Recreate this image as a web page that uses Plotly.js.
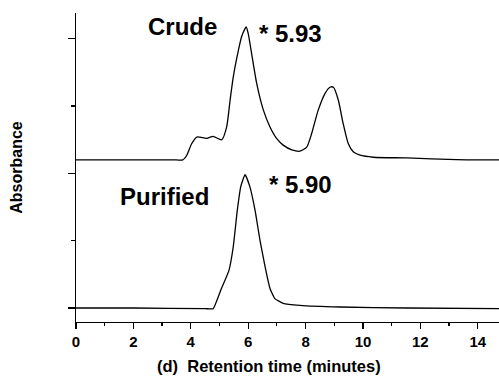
<!DOCTYPE html>
<html>
<head>
<meta charset="utf-8">
<script src="https://cdn.plot.ly/plotly-3.0.1.min.js"></script>
<style>html,body{margin:0;padding:0;background:#fff;}#chart{width:499px;height:376px;}</style>
</head>
<body>
<div id="chart"></div>
<script>
// Retention time (minutes) and absorbance (arbitrary units)
const crudeTime = [0, 3.5, 3.72, 3.86, 4.03, 4.21, 4.55, 4.78, 5.08, 5.25, 5.37, 5.48, 5.66, 5.77, 5.89, 5.93, 6.0, 6.12, 6.3, 6.53, 6.76, 6.99, 7.22, 7.52, 7.8, 8.04, 8.21, 8.44, 8.68, 8.85, 8.97, 9.14, 9.31, 9.49, 9.66, 9.9, 10.36, 11.52, 13.26, 14.74];
const crudeAbs  = [0, 0, 0, 0.07, 0.24, 0.34, 0.32, 0.35, 0.30, 0.49, 0.89, 1.23, 1.63, 1.83, 1.95, 1.975, 1.88, 1.58, 1.13, 0.74, 0.49, 0.32, 0.22, 0.15, 0.13, 0.19, 0.39, 0.74, 0.99, 1.08, 1.08, 0.89, 0.54, 0.24, 0.12, 0.07, 0.04, 0.03, 0.005, 0];
const crudeOffset = 2.2; // vertical stacking of the crude trace above the purified trace

const purifiedTime = [0, 2, 4.5, 4.78, 5.05, 5.33, 5.48, 5.62, 5.74, 5.89, 6.06, 6.24, 6.41, 6.59, 6.76, 6.93, 7.22, 7.8, 9.2, 11.52, 14.74];
const purifiedAbs  = [0, 0, -0.01, -0.01, 0.27, 0.56, 0.91, 1.45, 1.80, 1.98, 1.80, 1.45, 1.01, 0.61, 0.29, 0.14, 0.07, 0.04, 0.015, 0, -0.01];

const xTicks = [0, 2, 4, 6, 8, 10, 12, 14];
const xTickLabels = ['0', '2', '4', '6', '8', '10', '12', '14'];

const FONT = 'Liberation Sans, Arial, Helvetica, sans-serif';

const traces = [
  {
    x: crudeTime,
    y: crudeAbs.map(v => v + crudeOffset),
    type: 'scatter', mode: 'lines', name: 'Crude',
    line: {color: '#000', width: 1.3, shape: 'spline', smoothing: 0.6},
    hoverinfo: 'skip'
  },
  {
    x: purifiedTime,
    y: purifiedAbs,
    type: 'scatter', mode: 'lines', name: 'Purified',
    line: {color: '#000', width: 1.3, shape: 'spline', smoothing: 0.4},
    hoverinfo: 'skip'
  }
];

const labelFont = {family: FONT, size: 24, color: '#000', weight: 'bold'};

const layout = {
  width: 499, height: 376,
  margin: {l: 76, r: 0, t: 13, b: 54, pad: 0},
  paper_bgcolor: '#fff', plot_bgcolor: '#fff',
  showlegend: false,
  xaxis: {
    range: [0, 14.74],
    tickvals: xTicks, ticktext: xTickLabels.map(t => '<b>' + t + '</b>'),
    ticks: 'outside', ticklen: 6, tickwidth: 1.2, tickcolor: '#000',
    minor: {dtick: 1, tick0: 0, ticks: 'outside', ticklen: 3, tickwidth: 1.2, tickcolor: '#000', showgrid: false},
    showline: true, linecolor: '#000', linewidth: 1.2,
    showgrid: false, zeroline: false,
    tickfont: {family: FONT, size: 15, color: '#000', weight: 'bold'}
  },
  yaxis: {
    range: [-0.208, 4.383],
    tickvals: [0, 2, 4],
    ticks: 'outside', ticklen: 7, tickwidth: 1.2, tickcolor: '#000',
    minor: {dtick: 1, tick0: 0, ticks: 'outside', ticklen: 4, tickwidth: 1.2, tickcolor: '#000', showgrid: false},
    showticklabels: false,
    showline: true, linecolor: '#000', linewidth: 1.2,
    showgrid: false, zeroline: false,
    title: {text: '<b>Absorbance</b>', standoff: 41, font: {family: FONT, size: 16, color: '#000', weight: 'bold'}}
  },
  annotations: [
    {text: 'Crude', xref: 'x', yref: 'y', x: 3.71, y: 4.186, xanchor: 'center', yanchor: 'middle', showarrow: false, font: labelFont},
    {text: '* 5.93', xref: 'x', yref: 'y', x: 6.31, y: 4.08, xanchor: 'left', yanchor: 'middle', showarrow: false, font: labelFont},
    {text: 'Purified', xref: 'x', yref: 'y', x: 3.09, y: 1.66, xanchor: 'center', yanchor: 'middle', showarrow: false, font: labelFont},
    {text: '* 5.90', xref: 'x', yref: 'y', x: 6.64, y: 1.83, xanchor: 'left', yanchor: 'middle', showarrow: false, font: labelFont},
    {text: '<b>(d)  Retention time (minutes)</b>', xref: 'paper', yref: 'paper', x: 0.456, y: -0.143, xanchor: 'center', yanchor: 'middle', showarrow: false,
     font: {family: FONT, size: 16.5, color: '#000', weight: 'bold'}}
  ]
};

Plotly.newPlot('chart', traces, layout, {displayModeBar: false, staticPlot: true});
</script>
</body>
</html>
